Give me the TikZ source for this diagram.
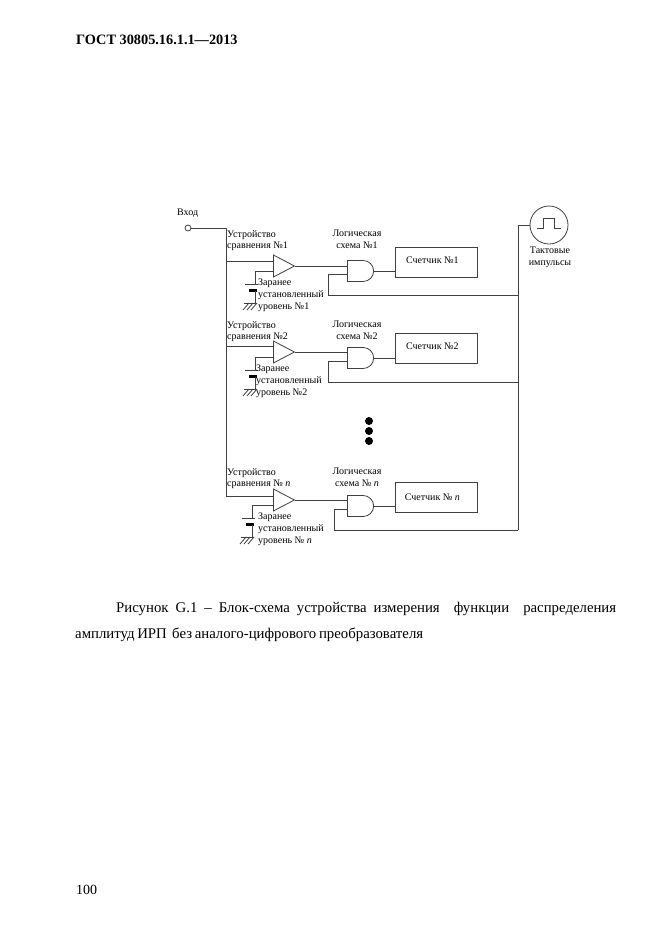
\documentclass[tikz,border=0pt]{standalone}
\usepackage{fontspec}
\setmainfont{Liberation Serif}
\usetikzlibrary{shapes.geometric,shapes.gates.logic.US}
\tikzset{
    wire/.style={draw=black!75,line width=0.8pt},
    small/.style={font=\fontsize{10}{11.7}\selectfont,inner sep=0pt,align=left},
    page/.style={font=\fontsize{14}{15}\selectfont,inner sep=0pt,anchor=west},
    caption/.style={page,font=\fontsize{14.8}{15}\selectfont},
    comparator/.style={wire,isosceles triangle,isosceles triangle stretches,shape border rotate=0,
        minimum width=22pt,minimum height=21pt,inner sep=0pt,anchor=west},
    gatebox/.style={wire,and gate US,logic gate inputs=nn,minimum width=24pt,minimum height=21pt,
        inner sep=0pt,anchor=west},
    counterbox/.style={wire,minimum width=82pt,minimum height=30pt,inner sep=0pt,anchor=west,
        font=\fontsize{10}{11.7}\selectfont}
}
\begin{document}
\begin{tikzpicture}[x=1pt,y=-1pt]
    \useasboundingbox[fill=white] (0,0) rectangle (661,935);

    % Page header and footer
    \node[page,font=\fontsize{14.3}{15}\selectfont\bfseries] (header) at (76,40) {ГОСТ 30805.16.1.1—2013};
    \node[page] (pageno) at (76,890) {100};

    % Input and bus
    \node[wire,circle,minimum size=6pt,inner sep=0pt] (in) at (188,228) {};
    \node[small,anchor=west] (inlabel) at (177,213) {Вход};
    \coordinate (busend) at (226,496);
    \draw[wire] (in.east) -| (busend);

    % Clock
    \node[wire,circle,minimum size=38pt,inner sep=0pt] (clk) at (549,225) {};
    \node[small,align=center,anchor=north] (clklabel) at (550,247) {Тактовые\\импульсы};
    \draw[wire] (537,228) -- (543,228) -- (543,218) -- (554,218) -- (554,228) -- (561,228);
    \coordinate (clkbus) at (518,225);
    \coordinate (clkend) at (518,530);
    \draw[wire] (clk.west) -- (clkbus) -- (clkend);

    % Channels: name/label/comparator/branch/gate/counter/raise/feedback x/feedback y/text/battery x/note x
    \foreach \k/\num/\yc/\yb/\yg/\yn/\up/\xf/\yf/\yt/\xs/\xz in {
        1/{№1}/266/261/271/262/3/328/295/234/255/258,
        2/{№2}/352/346/358/348/4/328/382/325/255/256,
        n/{№ \textit{n}}/500/496/506/497/0/334/530/472/252/258} {
        % Comparator
        \node[comparator] (cmp\k) at (273,\yc) {};
        \coordinate (br\k) at (226,\yb);
        \draw[wire] (br\k) -- (cmp\k.west |- br\k);
        \node[small,anchor=north west] (cmplabel\k) at (227,\yt-4) {Устройство\\сравнения \num};

        % Logic gate and counter
        \node[gatebox] (and\k) at (347,\yg) {};
        \node[small,align=center,anchor=north] (andlabel\k) at (357,\yt-4) {Логическая\\схема \num};
        \node[counterbox] (count\k) at (395,\yn) {\raisebox{\up pt}{Счетчик \num\hspace{8pt}}};
        \draw[wire] (cmp\k.apex) -- (and\k.west |- cmp\k.apex);
        \draw[wire] (and\k.output) -- (count\k.west |- and\k.output);

        % Feedback from the clock line
        \coordinate (fb\k) at (\xf,\yf);
        \draw[wire] (and\k.input 2) -| (fb\k) -- (fb\k -| clkbus);

        % Preset level
        \coordinate (ref\k) at (\xs,\yc+18);
        \coordinate (gnd\k) at (\xs,\yc+37);
        \draw[wire] (cmp\k.west |- 0,\yc+5) -| (ref\k);
        \draw[wire] ([xshift=-10pt]ref\k) -- ([xshift=3pt]ref\k);
        \fill[black] ([xshift=-6pt,yshift=-5pt]ref\k) rectangle ([xshift=2pt,yshift=-8pt]ref\k);
        \draw[wire] ([yshift=-7pt]ref\k) -- (gnd\k);
        \draw[wire] ([xshift=-11pt]gnd\k) -- ([xshift=2pt]gnd\k);
        \foreach \h in {-2,2,6} {
            \draw[wire] ([xshift=-\h pt]gnd\k) -- ++(-6,7);
        }
        \node[small,anchor=north west] (lvllabel\k) at (\xz,\yc+13) {Заранее\\установленный\\уровень \num};
    }

    % Dots between channels
    \foreach \i/\y in {1/421,2/431,3/441} {
        \node[circle,fill=black,minimum size=8pt,inner sep=0pt] (dot\i) at (369,\y) {};
    }

    % Caption
    \node[caption] (capa) at (116,609) {\makebox[500pt][s]{Рисунок G.1 – Блок-схема устройства измерения \ функции \ распределения}};
    \node[caption] (capb) at (75,635) {\makebox[348pt][s]{амплитуд ИРП \ без аналого-цифрового преобразователя}};
\end{tikzpicture}
\end{document}
